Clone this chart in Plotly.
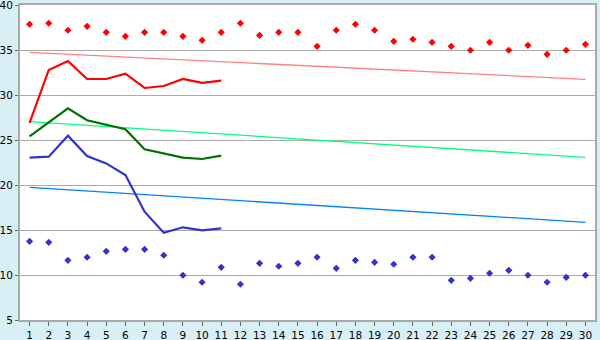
import plotly.graph_objects as go

days = list(range(1, 31))
tick_labels = [str(d) for d in days]

red_pts = [37.86, 37.97, 37.19, 37.63, 36.96, 36.52, 36.96, 36.96, 36.52, 36.07,
           36.96, 37.97, 36.63, 36.96, 36.96, 35.41, 37.19, 37.86, 37.19, 35.96,
           36.19, 35.85, 35.41, 34.97, 35.85, 34.97, 35.52, 34.52, 34.97, 35.63]
blue_pts = [13.74, 13.63, 11.63, 11.97, 12.63, 12.85, 12.85, 12.19, 9.97, 9.19,
            10.85, 8.97, 11.30, 10.97, 11.30, 11.97, 10.74, 11.63, 11.41, 11.19,
            11.97, 11.97, 9.41, 9.63, 10.19, 10.52, 9.97, 9.19, 9.74, 9.97]

line_days = list(range(1, 12))
red_line = [26.9, 32.78, 33.78, 31.78, 31.78, 32.37, 30.78, 31.0, 31.78, 31.35, 31.6]
green_line = [25.4, 27.0, 28.52, 27.2, 26.67, 26.19, 23.96, 23.52, 23.04, 22.89, 23.26]
blue_line = [23.04, 23.15, 25.48, 23.22, 22.4, 21.1, 17.03, 14.7, 15.3, 14.96, 15.19]

trend_days = [1, 30]
red_trend = [34.74, 31.74]
green_trend = [27.04, 23.07]
blue_trend = [19.74, 15.85]

fig = go.Figure()
for y, c in [(red_trend, "#FF8080"), (green_trend, "#00FF80"), (blue_trend, "#0080FF")]:
    fig.add_trace(go.Scatter(x=trend_days, y=y, mode="lines",
                             line=dict(color=c, width=1.3), showlegend=False))
for y, c in [(red_line, "#FF0000"), (green_line, "#007000"), (blue_line, "#3333CC")]:
    fig.add_trace(go.Scatter(x=line_days, y=y, mode="lines",
                             line=dict(color=c, width=2.2), showlegend=False))
fig.add_trace(go.Scatter(x=days, y=red_pts, mode="markers",
                         marker=dict(symbol="diamond", size=5.5, color="#FF0000"), showlegend=False))
fig.add_trace(go.Scatter(x=days, y=blue_pts, mode="markers",
                         marker=dict(symbol="diamond", size=5.5, color="#3333CC"), showlegend=False))

fig.update_layout(
    width=600, height=340,
    margin=dict(l=20, r=5, t=5, b=20),
    paper_bgcolor="#D9EFF6", plot_bgcolor="#FFFFFF",
    font=dict(family="DejaVu Sans", size=10.5, color="#000000"),
)
fig.update_xaxes(range=[0.5, 30.5], tickmode="array", tickvals=days, ticktext=tick_labels,
                 showgrid=False, zeroline=False, ticks="outside", ticklen=4, tickcolor="#666666",
                 showline=True, linecolor="#AAAAAA", linewidth=2, mirror=True,
                 automargin=False, ticklabelstandoff=0, ticklabeloverflow="allow")
fig.update_yaxes(range=[5, 40], tickmode="array", tickvals=[5, 10, 15, 20, 25, 30, 35, 40],
                 showgrid=True, gridcolor="#AAAAAA", gridwidth=1, zeroline=False,
                 ticks="outside", ticklen=3, tickcolor="#666666",
                 showline=True, linecolor="#AAAAAA", linewidth=2, mirror=True,
                 automargin=False, ticklabelstandoff=0, ticklabeloverflow="allow")
fig.write_html("out.html")
